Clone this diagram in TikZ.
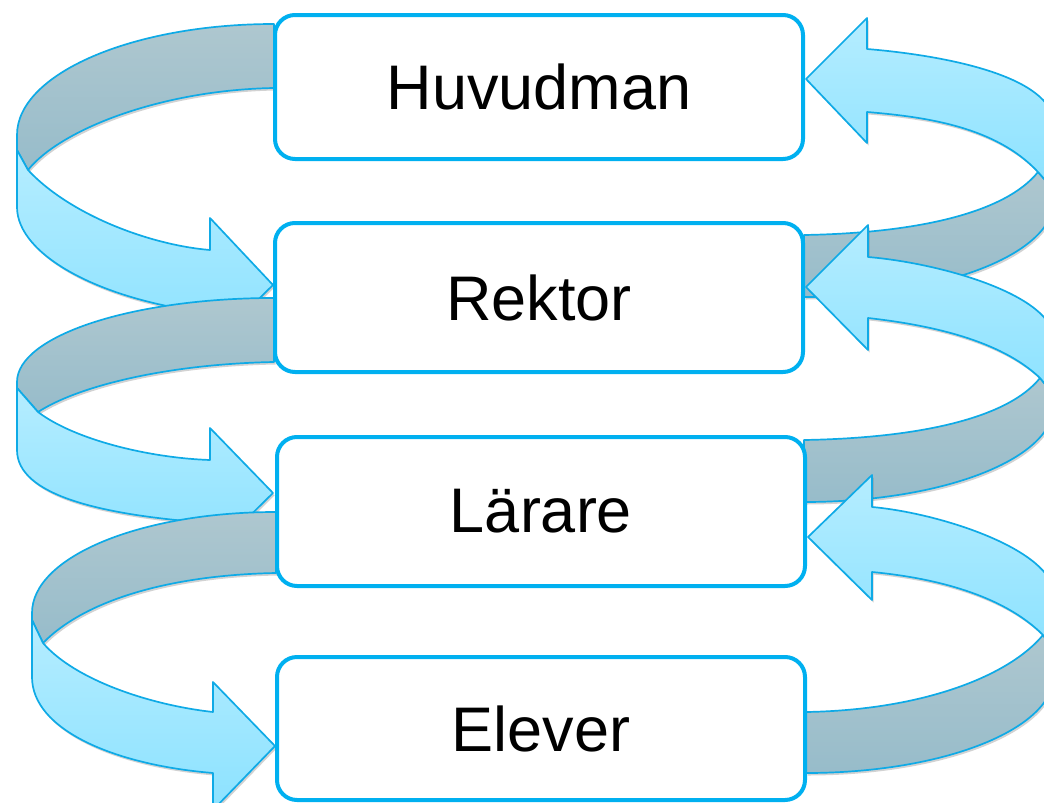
\documentclass[tikz,border=0pt]{standalone}
\usepackage{fontspec}
\setmainfont{Liberation Sans}
\usetikzlibrary{shadows}
\definecolor{boxline}{HTML}{00B0F0}
\definecolor{ribline}{HTML}{0FAAE6}
\definecolor{lighttop}{HTML}{B5EDFF}
\definecolor{lightbot}{HTML}{8CE2FF}
\definecolor{darktop}{HTML}{AEC7CF}
\definecolor{darkbot}{HTML}{97BCCA}
\tikzset{
  ribbon/.style={draw=ribline, line width=1.7pt, line join=round,
    drop shadow={shadow xshift=1.5pt, shadow yshift=-2.5pt, opacity=0.25, fill=black!70}},
  front/.style={ribbon, top color=lighttop, bottom color=lightbot},
  back/.style={ribbon, top color=darktop, bottom color=darkbot},
  levelbox/.style={draw=boxline, line width=4pt, fill=white, rounded corners=20pt,
    minimum width=528pt, inner sep=0pt, font=\fontsize{63}{72}\selectfont}
}
\begin{document}
\begin{tikzpicture}[x=1pt,y=-1pt]
\useasboundingbox (0,0) rectangle (1044,803);
\clip (0,0) rectangle (1044,803);
% ---- left ribbons (downwards) ----
% L1: Huvudman -> Rektor
\path[back] (274,24) .. controls (132,24) and (17,74) .. (17,135) -- (17,150) -- (28,170)
  .. controls (60,130) and (160,90) .. (274,88) -- cycle;
\path[front] (17,150) -- (17,207) .. controls (17,255) and (100,300) .. (210,313) -- (210,347)
  -- (273,285) -- (210,218) -- (210,250) .. controls (150,245) and (70,215) .. (28,170) -- cycle;
% L2: Rektor -> Larare
\path[back] (274,298) .. controls (132,298) and (17,336) .. (17,382) -- (17,388) -- (38,412)
  .. controls (80,385) and (170,364) .. (274,362) -- cycle;
\path[front] (17,388) -- (17,450) .. controls (17,495) and (100,515) .. (210,523) -- (210,555)
  -- (273,493) -- (210,428) -- (210,460) .. controls (150,458) and (75,440) .. (38,412) -- cycle;
% L3: Larare -> Elever
\path[back] (276,512) .. controls (140,512) and (32,557) .. (32,613) -- (32,620) -- (43,643)
  .. controls (85,600) and (170,575) .. (276,573) -- cycle;
\path[front] (32,620) -- (32,677) .. controls (32,730) and (115,765) .. (213,773) -- (213,810)
  -- (275,746) -- (213,682) -- (213,712) .. controls (150,705) and (75,680) .. (43,643) -- cycle;
% ---- right ribbons (upwards) ----
% R1: Rektor -> Huvudman
\path[back] (1038,172) -- (1054,190) -- (1054,200) .. controls (1054,254) and (943,297) .. (804,297)
  -- (804,235) .. controls (920,233) and (1006,212) .. (1038,172) -- cycle;
\path[front] (867,49) .. controls (940,55) and (1054,75) .. (1054,125) -- (1054,190) -- (1038,172)
  .. controls (996,127) and (927,117) .. (867,112) -- (867,143) -- (806,79) -- (867,18) -- cycle;
% R2: Larare -> Rektor
\path[back] (1040,378) -- (1054,395) -- (1054,405) .. controls (1054,459) and (943,502) .. (804,502)
  -- (804,440) .. controls (920,438) and (1008,418) .. (1040,378) -- cycle;
\path[front] (868,257) .. controls (940,263) and (1054,295) .. (1054,340) -- (1054,395) -- (1040,378)
  .. controls (1000,340) and (930,325) .. (868,318) -- (868,350) -- (806,287) -- (868,225) -- cycle;
% R3: Elever -> Larare
\path[back] (1043,635) -- (1054,650) -- (1054,675) .. controls (1054,729) and (944,773) .. (806,773)
  -- (806,712) .. controls (925,710) and (1010,675) .. (1043,635) -- cycle;
\path[front] (872,507) .. controls (940,513) and (1054,550) .. (1054,595) -- (1054,650) -- (1043,635)
  .. controls (1003,595) and (935,578) .. (872,572) -- (872,600) -- (808,537) -- (872,475) -- cycle;
% ---- boxes ----
\node[levelbox, minimum height=144pt] (huv) at (539,87) {Huvudman};
\node[levelbox, minimum height=149pt] (rek) at (539,297.5) {Rektor};
\node[levelbox, minimum height=149pt] (lar) at (541,511.5) {Lärare};
\node[levelbox, minimum height=143pt] (ele) at (541,728.5) {Elever};
\end{tikzpicture}
\end{document}
